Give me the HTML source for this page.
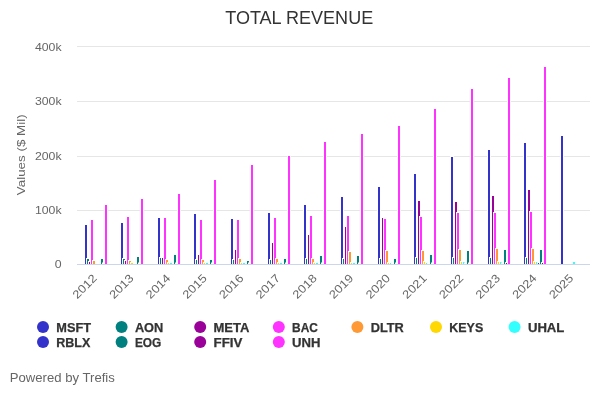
<!DOCTYPE html><html><head><meta charset="utf-8"><style>html,body{margin:0;padding:0;background:#fff}svg{display:block;will-change:transform;opacity:0.999}text{font-family:"Liberation Sans",sans-serif}</style></head><body>
<svg width="600" height="400" viewBox="0 0 600 400">
<rect width="600" height="400" fill="#fff"/>
<path d="M77 210.5H590" stroke="#e6e6e6" stroke-width="1" fill="none"/>
<path d="M77 156.5H590" stroke="#e6e6e6" stroke-width="1" fill="none"/>
<path d="M77 101.5H590" stroke="#e6e6e6" stroke-width="1" fill="none"/>
<path d="M77 46.5H590" stroke="#e6e6e6" stroke-width="1" fill="none"/>
<g shape-rendering="crispEdges">
<rect x="84" y="224" width="4" height="40" fill="#fff"/>
<rect x="85" y="225" width="2" height="39" fill="#3333cc"/>
<rect x="120" y="222" width="4" height="42" fill="#fff"/>
<rect x="121" y="223" width="2" height="41" fill="#3333cc"/>
<rect x="157" y="217" width="4" height="47" fill="#fff"/>
<rect x="158" y="218" width="2" height="46" fill="#3333cc"/>
<rect x="193" y="213" width="4" height="51" fill="#fff"/>
<rect x="194" y="214" width="2" height="50" fill="#3333cc"/>
<rect x="230" y="218" width="4" height="46" fill="#fff"/>
<rect x="231" y="219" width="2" height="45" fill="#3333cc"/>
<rect x="267" y="212" width="4" height="52" fill="#fff"/>
<rect x="268" y="213" width="2" height="51" fill="#3333cc"/>
<rect x="303" y="204" width="4" height="60" fill="#fff"/>
<rect x="304" y="205" width="2" height="59" fill="#3333cc"/>
<rect x="340" y="196" width="4" height="68" fill="#fff"/>
<rect x="341" y="197" width="2" height="67" fill="#3333cc"/>
<rect x="377" y="186" width="4" height="78" fill="#fff"/>
<rect x="378" y="187" width="2" height="77" fill="#3333cc"/>
<rect x="413" y="173" width="4" height="91" fill="#fff"/>
<rect x="414" y="174" width="2" height="90" fill="#3333cc"/>
<rect x="450" y="156" width="4" height="108" fill="#fff"/>
<rect x="451" y="157" width="2" height="107" fill="#3333cc"/>
<rect x="487" y="149" width="4" height="115" fill="#fff"/>
<rect x="488" y="150" width="2" height="114" fill="#3333cc"/>
<rect x="523" y="142" width="4" height="122" fill="#fff"/>
<rect x="524" y="143" width="2" height="121" fill="#3333cc"/>
<rect x="560" y="135" width="4" height="129" fill="#fff"/>
<rect x="561" y="136" width="2" height="128" fill="#3333cc"/>
<rect x="86" y="258" width="4" height="6" fill="#fff"/>
<rect x="87" y="259" width="2" height="5" fill="#008080"/>
<rect x="122" y="258" width="4" height="6" fill="#fff"/>
<rect x="123" y="259" width="2" height="5" fill="#008080"/>
<rect x="159" y="257" width="4" height="7" fill="#fff"/>
<rect x="160" y="258" width="2" height="6" fill="#008080"/>
<rect x="195" y="259" width="4" height="5" fill="#fff"/>
<rect x="196" y="260" width="2" height="4" fill="#008080"/>
<rect x="232" y="259" width="4" height="5" fill="#fff"/>
<rect x="233" y="260" width="2" height="4" fill="#008080"/>
<rect x="269" y="259" width="4" height="5" fill="#fff"/>
<rect x="270" y="260" width="2" height="4" fill="#008080"/>
<rect x="305" y="258" width="4" height="6" fill="#fff"/>
<rect x="306" y="259" width="2" height="5" fill="#008080"/>
<rect x="342" y="258" width="4" height="6" fill="#fff"/>
<rect x="343" y="259" width="2" height="5" fill="#008080"/>
<rect x="379" y="258" width="4" height="6" fill="#fff"/>
<rect x="380" y="259" width="2" height="5" fill="#008080"/>
<rect x="415" y="257" width="4" height="7" fill="#fff"/>
<rect x="416" y="258" width="2" height="6" fill="#008080"/>
<rect x="452" y="257" width="4" height="7" fill="#fff"/>
<rect x="453" y="258" width="2" height="6" fill="#008080"/>
<rect x="489" y="257" width="4" height="7" fill="#fff"/>
<rect x="490" y="258" width="2" height="6" fill="#008080"/>
<rect x="525" y="257" width="4" height="7" fill="#fff"/>
<rect x="526" y="258" width="2" height="6" fill="#008080"/>
<rect x="88" y="261" width="4" height="3" fill="#fff"/>
<rect x="89" y="262" width="2" height="2" fill="#990099"/>
<rect x="124" y="260" width="4" height="4" fill="#fff"/>
<rect x="125" y="261" width="2" height="3" fill="#990099"/>
<rect x="161" y="257" width="4" height="7" fill="#fff"/>
<rect x="162" y="258" width="2" height="6" fill="#990099"/>
<rect x="197" y="254" width="4" height="10" fill="#fff"/>
<rect x="198" y="255" width="2" height="9" fill="#990099"/>
<rect x="234" y="249" width="4" height="15" fill="#fff"/>
<rect x="235" y="250" width="2" height="14" fill="#990099"/>
<rect x="271" y="242" width="4" height="22" fill="#fff"/>
<rect x="272" y="243" width="2" height="21" fill="#990099"/>
<rect x="307" y="234" width="4" height="30" fill="#fff"/>
<rect x="308" y="235" width="2" height="29" fill="#990099"/>
<rect x="344" y="226" width="4" height="38" fill="#fff"/>
<rect x="345" y="227" width="2" height="37" fill="#990099"/>
<rect x="381" y="217" width="4" height="47" fill="#fff"/>
<rect x="382" y="218" width="2" height="46" fill="#990099"/>
<rect x="417" y="200" width="4" height="64" fill="#fff"/>
<rect x="418" y="201" width="2" height="63" fill="#990099"/>
<rect x="454" y="201" width="4" height="63" fill="#fff"/>
<rect x="455" y="202" width="2" height="62" fill="#990099"/>
<rect x="491" y="195" width="4" height="69" fill="#fff"/>
<rect x="492" y="196" width="2" height="68" fill="#990099"/>
<rect x="527" y="189" width="4" height="75" fill="#fff"/>
<rect x="528" y="190" width="2" height="74" fill="#990099"/>
<rect x="90" y="219" width="4" height="45" fill="#fff"/>
<rect x="91" y="220" width="2" height="44" fill="#ff33ff"/>
<rect x="126" y="216" width="4" height="48" fill="#fff"/>
<rect x="127" y="217" width="2" height="47" fill="#ff33ff"/>
<rect x="163" y="217" width="4" height="47" fill="#fff"/>
<rect x="164" y="218" width="2" height="46" fill="#ff33ff"/>
<rect x="199" y="219" width="4" height="45" fill="#fff"/>
<rect x="200" y="220" width="2" height="44" fill="#ff33ff"/>
<rect x="236" y="219" width="4" height="45" fill="#fff"/>
<rect x="237" y="220" width="2" height="44" fill="#ff33ff"/>
<rect x="273" y="217" width="4" height="47" fill="#fff"/>
<rect x="274" y="218" width="2" height="46" fill="#ff33ff"/>
<rect x="309" y="215" width="4" height="49" fill="#fff"/>
<rect x="310" y="216" width="2" height="48" fill="#ff33ff"/>
<rect x="346" y="215" width="4" height="49" fill="#fff"/>
<rect x="347" y="216" width="2" height="48" fill="#ff33ff"/>
<rect x="383" y="218" width="4" height="46" fill="#fff"/>
<rect x="384" y="219" width="2" height="45" fill="#ff33ff"/>
<rect x="419" y="216" width="4" height="48" fill="#fff"/>
<rect x="420" y="217" width="2" height="47" fill="#ff33ff"/>
<rect x="456" y="212" width="4" height="52" fill="#fff"/>
<rect x="457" y="213" width="2" height="51" fill="#ff33ff"/>
<rect x="493" y="212" width="4" height="52" fill="#fff"/>
<rect x="494" y="213" width="2" height="51" fill="#ff33ff"/>
<rect x="529" y="211" width="4" height="53" fill="#fff"/>
<rect x="530" y="212" width="2" height="52" fill="#ff33ff"/>
<rect x="92" y="260" width="4" height="4" fill="#fff"/>
<rect x="93" y="261" width="2" height="3" fill="#ff9933"/>
<rect x="128" y="260" width="4" height="4" fill="#fff"/>
<rect x="129" y="261" width="2" height="3" fill="#ff9933"/>
<rect x="165" y="259" width="4" height="5" fill="#fff"/>
<rect x="166" y="260" width="2" height="4" fill="#ff9933"/>
<rect x="201" y="259" width="4" height="5" fill="#fff"/>
<rect x="202" y="260" width="2" height="4" fill="#ff9933"/>
<rect x="238" y="258" width="4" height="6" fill="#fff"/>
<rect x="239" y="259" width="2" height="5" fill="#ff9933"/>
<rect x="275" y="258" width="4" height="6" fill="#fff"/>
<rect x="276" y="259" width="2" height="5" fill="#ff9933"/>
<rect x="311" y="258" width="4" height="6" fill="#fff"/>
<rect x="312" y="259" width="2" height="5" fill="#ff9933"/>
<rect x="348" y="251" width="4" height="13" fill="#fff"/>
<rect x="349" y="252" width="2" height="12" fill="#ff9933"/>
<rect x="385" y="250" width="4" height="14" fill="#fff"/>
<rect x="386" y="251" width="2" height="13" fill="#ff9933"/>
<rect x="421" y="250" width="4" height="14" fill="#fff"/>
<rect x="422" y="251" width="2" height="13" fill="#ff9933"/>
<rect x="458" y="249" width="4" height="15" fill="#fff"/>
<rect x="459" y="250" width="2" height="14" fill="#ff9933"/>
<rect x="495" y="248" width="4" height="16" fill="#fff"/>
<rect x="496" y="249" width="2" height="15" fill="#ff9933"/>
<rect x="531" y="248" width="4" height="16" fill="#fff"/>
<rect x="532" y="249" width="2" height="15" fill="#ff9933"/>
<rect x="130" y="262" width="4" height="2" fill="#fff"/>
<rect x="131" y="263" width="2" height="1" fill="#ffd700"/>
<rect x="167" y="262" width="4" height="2" fill="#fff"/>
<rect x="168" y="263" width="2" height="1" fill="#ffd700"/>
<rect x="203" y="262" width="4" height="2" fill="#fff"/>
<rect x="204" y="263" width="2" height="1" fill="#ffd700"/>
<rect x="240" y="262" width="4" height="2" fill="#fff"/>
<rect x="241" y="263" width="2" height="1" fill="#ffd700"/>
<rect x="277" y="262" width="4" height="2" fill="#fff"/>
<rect x="278" y="263" width="2" height="1" fill="#ffd700"/>
<rect x="313" y="262" width="4" height="2" fill="#fff"/>
<rect x="314" y="263" width="2" height="1" fill="#ffd700"/>
<rect x="350" y="262" width="4" height="2" fill="#fff"/>
<rect x="351" y="263" width="2" height="1" fill="#ffd700"/>
<rect x="387" y="262" width="4" height="2" fill="#fff"/>
<rect x="388" y="263" width="2" height="1" fill="#ffd700"/>
<rect x="423" y="261" width="4" height="3" fill="#fff"/>
<rect x="424" y="262" width="2" height="2" fill="#ffd700"/>
<rect x="460" y="261" width="4" height="3" fill="#fff"/>
<rect x="461" y="262" width="2" height="2" fill="#ffd700"/>
<rect x="497" y="261" width="4" height="3" fill="#fff"/>
<rect x="498" y="262" width="2" height="2" fill="#ffd700"/>
<rect x="533" y="261" width="4" height="3" fill="#fff"/>
<rect x="534" y="262" width="2" height="2" fill="#ffd700"/>
<rect x="169" y="262" width="4" height="2" fill="#fff"/>
<rect x="170" y="263" width="2" height="1" fill="#33ffff"/>
<rect x="205" y="262" width="4" height="2" fill="#fff"/>
<rect x="206" y="263" width="2" height="1" fill="#33ffff"/>
<rect x="242" y="262" width="4" height="2" fill="#fff"/>
<rect x="243" y="263" width="2" height="1" fill="#33ffff"/>
<rect x="279" y="262" width="4" height="2" fill="#fff"/>
<rect x="280" y="263" width="2" height="1" fill="#33ffff"/>
<rect x="315" y="262" width="4" height="2" fill="#fff"/>
<rect x="316" y="263" width="2" height="1" fill="#33ffff"/>
<rect x="352" y="262" width="4" height="2" fill="#fff"/>
<rect x="353" y="263" width="2" height="1" fill="#33ffff"/>
<rect x="389" y="262" width="4" height="2" fill="#fff"/>
<rect x="390" y="263" width="2" height="1" fill="#33ffff"/>
<rect x="425" y="262" width="4" height="2" fill="#fff"/>
<rect x="426" y="263" width="2" height="1" fill="#33ffff"/>
<rect x="462" y="261" width="4" height="3" fill="#fff"/>
<rect x="463" y="262" width="2" height="2" fill="#33ffff"/>
<rect x="499" y="261" width="4" height="3" fill="#fff"/>
<rect x="500" y="262" width="2" height="2" fill="#33ffff"/>
<rect x="535" y="261" width="4" height="3" fill="#fff"/>
<rect x="536" y="262" width="2" height="2" fill="#33ffff"/>
<rect x="572" y="261" width="4" height="3" fill="#fff"/>
<rect x="573" y="262" width="2" height="2" fill="#33ffff"/>
<rect x="391" y="263" width="4" height="1" fill="#fff"/><rect x="391" y="262" width="4" height="1" fill="#fff" fill-opacity="0.5"/>
<rect x="427" y="263" width="4" height="1" fill="#fff"/><rect x="427" y="262" width="4" height="1" fill="#fff" fill-opacity="0.5"/>
<rect x="464" y="263" width="4" height="1" fill="#fff"/><rect x="464" y="262" width="4" height="1" fill="#fff" fill-opacity="0.5"/>
<rect x="501" y="263" width="4" height="1" fill="#fff"/><rect x="501" y="262" width="4" height="1" fill="#fff" fill-opacity="0.5"/>
<rect x="537" y="262" width="4" height="2" fill="#fff"/>
<rect x="538" y="263" width="2" height="1" fill="#3333cc"/>
<rect x="100" y="258" width="4" height="6" fill="#fff"/>
<rect x="101" y="259" width="2" height="5" fill="#008080"/>
<rect x="136" y="256" width="4" height="8" fill="#fff"/>
<rect x="137" y="257" width="2" height="7" fill="#008080"/>
<rect x="173" y="254" width="4" height="10" fill="#fff"/>
<rect x="174" y="255" width="2" height="9" fill="#008080"/>
<rect x="209" y="259" width="4" height="5" fill="#fff"/>
<rect x="210" y="260" width="2" height="4" fill="#008080"/>
<rect x="246" y="260" width="4" height="4" fill="#fff"/>
<rect x="247" y="261" width="2" height="3" fill="#008080"/>
<rect x="283" y="258" width="4" height="6" fill="#fff"/>
<rect x="284" y="259" width="2" height="5" fill="#008080"/>
<rect x="319" y="255" width="4" height="9" fill="#fff"/>
<rect x="320" y="256" width="2" height="8" fill="#008080"/>
<rect x="356" y="255" width="4" height="9" fill="#fff"/>
<rect x="357" y="256" width="2" height="8" fill="#008080"/>
<rect x="393" y="258" width="4" height="6" fill="#fff"/>
<rect x="394" y="259" width="2" height="5" fill="#008080"/>
<rect x="429" y="254" width="4" height="10" fill="#fff"/>
<rect x="430" y="255" width="2" height="9" fill="#008080"/>
<rect x="466" y="250" width="4" height="14" fill="#fff"/>
<rect x="467" y="251" width="2" height="13" fill="#008080"/>
<rect x="503" y="249" width="4" height="15" fill="#fff"/>
<rect x="504" y="250" width="2" height="14" fill="#008080"/>
<rect x="539" y="249" width="4" height="15" fill="#fff"/>
<rect x="540" y="250" width="2" height="14" fill="#008080"/>
<rect x="102" y="263" width="4" height="1" fill="#fff"/><rect x="102" y="262" width="4" height="1" fill="#fff" fill-opacity="0.5"/>
<rect x="138" y="263" width="4" height="1" fill="#fff"/><rect x="138" y="262" width="4" height="1" fill="#fff" fill-opacity="0.5"/>
<rect x="175" y="263" width="4" height="1" fill="#fff"/><rect x="175" y="262" width="4" height="1" fill="#fff" fill-opacity="0.5"/>
<rect x="211" y="263" width="4" height="1" fill="#fff"/><rect x="211" y="262" width="4" height="1" fill="#fff" fill-opacity="0.5"/>
<rect x="248" y="263" width="4" height="1" fill="#fff"/><rect x="248" y="262" width="4" height="1" fill="#fff" fill-opacity="0.5"/>
<rect x="285" y="263" width="4" height="1" fill="#fff"/><rect x="285" y="262" width="4" height="1" fill="#fff" fill-opacity="0.5"/>
<rect x="321" y="263" width="4" height="1" fill="#fff"/><rect x="321" y="262" width="4" height="1" fill="#fff" fill-opacity="0.5"/>
<rect x="358" y="263" width="4" height="1" fill="#fff"/><rect x="358" y="262" width="4" height="1" fill="#fff" fill-opacity="0.5"/>
<rect x="395" y="263" width="4" height="1" fill="#fff"/><rect x="395" y="262" width="4" height="1" fill="#fff" fill-opacity="0.5"/>
<rect x="431" y="263" width="4" height="1" fill="#fff"/><rect x="431" y="262" width="4" height="1" fill="#fff" fill-opacity="0.5"/>
<rect x="468" y="263" width="4" height="1" fill="#fff"/><rect x="468" y="262" width="4" height="1" fill="#fff" fill-opacity="0.5"/>
<rect x="505" y="262" width="4" height="2" fill="#fff"/>
<rect x="506" y="263" width="2" height="1" fill="#990099"/>
<rect x="541" y="262" width="4" height="2" fill="#fff"/>
<rect x="542" y="263" width="2" height="1" fill="#990099"/>
<rect x="104" y="204" width="4" height="60" fill="#fff"/>
<rect x="105" y="205" width="2" height="59" fill="#ff33ff"/>
<rect x="140" y="198" width="4" height="66" fill="#fff"/>
<rect x="141" y="199" width="2" height="65" fill="#ff33ff"/>
<rect x="177" y="193" width="4" height="71" fill="#fff"/>
<rect x="178" y="194" width="2" height="70" fill="#ff33ff"/>
<rect x="213" y="179" width="4" height="85" fill="#fff"/>
<rect x="214" y="180" width="2" height="84" fill="#ff33ff"/>
<rect x="250" y="164" width="4" height="100" fill="#fff"/>
<rect x="251" y="165" width="2" height="99" fill="#ff33ff"/>
<rect x="287" y="155" width="4" height="109" fill="#fff"/>
<rect x="288" y="156" width="2" height="108" fill="#ff33ff"/>
<rect x="323" y="141" width="4" height="123" fill="#fff"/>
<rect x="324" y="142" width="2" height="122" fill="#ff33ff"/>
<rect x="360" y="133" width="4" height="131" fill="#fff"/>
<rect x="361" y="134" width="2" height="130" fill="#ff33ff"/>
<rect x="397" y="125" width="4" height="139" fill="#fff"/>
<rect x="398" y="126" width="2" height="138" fill="#ff33ff"/>
<rect x="433" y="108" width="4" height="156" fill="#fff"/>
<rect x="434" y="109" width="2" height="155" fill="#ff33ff"/>
<rect x="470" y="88" width="4" height="176" fill="#fff"/>
<rect x="471" y="89" width="2" height="175" fill="#ff33ff"/>
<rect x="507" y="77" width="4" height="187" fill="#fff"/>
<rect x="508" y="78" width="2" height="186" fill="#ff33ff"/>
<rect x="543" y="66" width="4" height="198" fill="#fff"/>
<rect x="544" y="67" width="2" height="197" fill="#ff33ff"/>
</g>
<path d="M77 264.5H590" stroke="#ccd6eb" stroke-width="1" fill="none"/>
<text x="299.2" y="24" text-anchor="middle" font-size="18.4" fill="#333333" textLength="148" lengthAdjust="spacingAndGlyphs">TOTAL REVENUE</text>
<text transform="translate(61.6,268.0) scale(1.07,1)" text-anchor="end" font-size="11.5" fill="#666666">0</text>
<text transform="translate(61.6,214.2) scale(1.07,1)" text-anchor="end" font-size="11.5" fill="#666666">100k</text>
<text transform="translate(61.6,160.2) scale(1.07,1)" text-anchor="end" font-size="11.5" fill="#666666">200k</text>
<text transform="translate(61.6,105.2) scale(1.07,1)" text-anchor="end" font-size="11.5" fill="#666666">300k</text>
<text transform="translate(61.6,50.7) scale(1.07,1)" text-anchor="end" font-size="11.5" fill="#666666">400k</text>
<text transform="translate(25,154.8) rotate(-90) scale(1.165,1)" text-anchor="middle" font-size="11.5" fill="#666666">Values ($ Mil)</text>
<text transform="translate(97.7,279) rotate(-45) scale(1.13,1)" text-anchor="end" font-size="11.5" fill="#666666">2012</text>
<text transform="translate(134.4,279) rotate(-45) scale(1.13,1)" text-anchor="end" font-size="11.5" fill="#666666">2013</text>
<text transform="translate(171.0,279) rotate(-45) scale(1.13,1)" text-anchor="end" font-size="11.5" fill="#666666">2014</text>
<text transform="translate(207.7,279) rotate(-45) scale(1.13,1)" text-anchor="end" font-size="11.5" fill="#666666">2015</text>
<text transform="translate(244.3,279) rotate(-45) scale(1.13,1)" text-anchor="end" font-size="11.5" fill="#666666">2016</text>
<text transform="translate(280.9,279) rotate(-45) scale(1.13,1)" text-anchor="end" font-size="11.5" fill="#666666">2017</text>
<text transform="translate(317.6,279) rotate(-45) scale(1.13,1)" text-anchor="end" font-size="11.5" fill="#666666">2018</text>
<text transform="translate(354.2,279) rotate(-45) scale(1.13,1)" text-anchor="end" font-size="11.5" fill="#666666">2019</text>
<text transform="translate(390.9,279) rotate(-45) scale(1.13,1)" text-anchor="end" font-size="11.5" fill="#666666">2020</text>
<text transform="translate(427.5,279) rotate(-45) scale(1.13,1)" text-anchor="end" font-size="11.5" fill="#666666">2021</text>
<text transform="translate(464.2,279) rotate(-45) scale(1.13,1)" text-anchor="end" font-size="11.5" fill="#666666">2022</text>
<text transform="translate(500.8,279) rotate(-45) scale(1.13,1)" text-anchor="end" font-size="11.5" fill="#666666">2023</text>
<text transform="translate(537.4,279) rotate(-45) scale(1.13,1)" text-anchor="end" font-size="11.5" fill="#666666">2024</text>
<text transform="translate(574.1,279) rotate(-45) scale(1.13,1)" text-anchor="end" font-size="11.5" fill="#666666">2025</text>
<circle cx="43.0" cy="327" r="6" fill="#3333cc"/>
<text x="56.3" y="331.5" font-size="12" font-weight="bold" fill="#333333" stroke="#333333" stroke-width="0.25" textLength="34.7" lengthAdjust="spacingAndGlyphs">MSFT</text>
<circle cx="121.6" cy="327" r="6" fill="#008080"/>
<text x="134.9" y="331.5" font-size="12" font-weight="bold" fill="#333333" stroke="#333333" stroke-width="0.25" textLength="28.4" lengthAdjust="spacingAndGlyphs">AON</text>
<circle cx="200.2" cy="327" r="6" fill="#990099"/>
<text x="213.5" y="331.5" font-size="12" font-weight="bold" fill="#333333" stroke="#333333" stroke-width="0.25" textLength="36.0" lengthAdjust="spacingAndGlyphs">META</text>
<circle cx="278.79999999999995" cy="327" r="6" fill="#ff33ff"/>
<text x="292.1" y="331.5" font-size="12" font-weight="bold" fill="#333333" stroke="#333333" stroke-width="0.25" textLength="25.9" lengthAdjust="spacingAndGlyphs">BAC</text>
<circle cx="357.4" cy="327" r="6" fill="#ff9933"/>
<text x="370.7" y="331.5" font-size="12" font-weight="bold" fill="#333333" stroke="#333333" stroke-width="0.25" textLength="33.1" lengthAdjust="spacingAndGlyphs">DLTR</text>
<circle cx="436.0" cy="327" r="6" fill="#ffd700"/>
<text x="449.3" y="331.5" font-size="12" font-weight="bold" fill="#333333" stroke="#333333" stroke-width="0.25" textLength="33.9" lengthAdjust="spacingAndGlyphs">KEYS</text>
<circle cx="514.5999999999999" cy="327" r="6" fill="#33ffff"/>
<text x="527.9" y="331.5" font-size="12" font-weight="bold" fill="#333333" stroke="#333333" stroke-width="0.25" textLength="36.5" lengthAdjust="spacingAndGlyphs">UHAL</text>
<circle cx="43.0" cy="342" r="6" fill="#3333cc"/>
<text x="56.3" y="346.5" font-size="12" font-weight="bold" fill="#333333" stroke="#333333" stroke-width="0.25" textLength="34.0" lengthAdjust="spacingAndGlyphs">RBLX</text>
<circle cx="121.6" cy="342" r="6" fill="#008080"/>
<text x="134.9" y="346.5" font-size="12" font-weight="bold" fill="#333333" stroke="#333333" stroke-width="0.25" textLength="26.4" lengthAdjust="spacingAndGlyphs">EOG</text>
<circle cx="200.2" cy="342" r="6" fill="#990099"/>
<text x="213.5" y="346.5" font-size="12" font-weight="bold" fill="#333333" stroke="#333333" stroke-width="0.25" textLength="28.9" lengthAdjust="spacingAndGlyphs">FFIV</text>
<circle cx="278.79999999999995" cy="342" r="6" fill="#ff33ff"/>
<text x="292.1" y="346.5" font-size="12" font-weight="bold" fill="#333333" stroke="#333333" stroke-width="0.25" textLength="28.4" lengthAdjust="spacingAndGlyphs">UNH</text>
<text x="9.8" y="381.8" font-size="12.3" fill="#666666" textLength="105" lengthAdjust="spacingAndGlyphs">Powered by Trefis</text>
</svg></body></html>
